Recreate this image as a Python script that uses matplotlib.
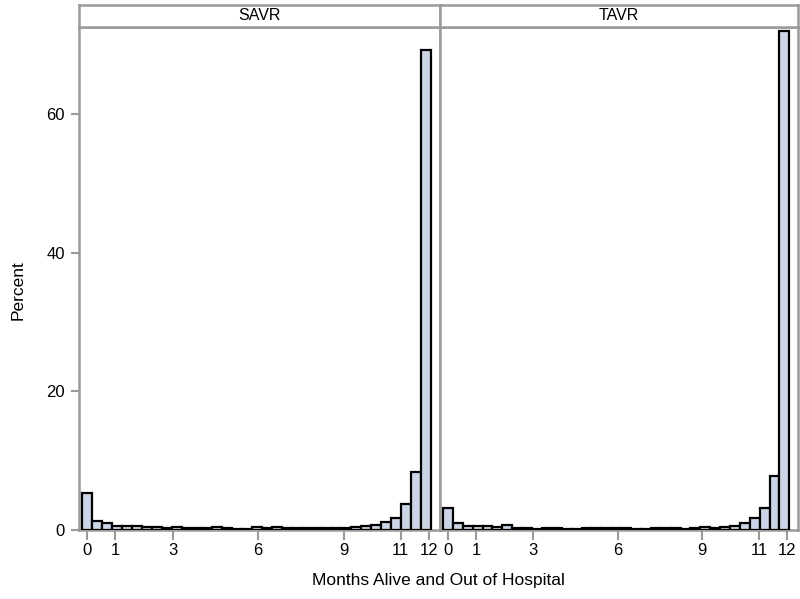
import numpy as np
import matplotlib
matplotlib.use("Agg")
import matplotlib.pyplot as plt

plt.rcParams['font.family'] = ['Liberation Sans', 'DejaVu Sans']

# histogram bins: midpoints in months, width 0.35
bin_width = 0.35
bin_mid = np.arange(35) * bin_width

panels = ["SAVR", "TAVR"]

savr_pct = [5.3, 1.3, 0.95, 0.5, 0.5, 0.55, 0.3, 0.3, 0.25, 0.38,
            0.2, 0.15, 0.25, 0.35, 0.15, 0.1, 0.05, 0.3, 0.25, 0.3,
            0.15, 0.15, 0.15, 0.15, 0.15, 0.2, 0.25, 0.35, 0.5, 0.65,
            1.05, 1.7, 3.7, 8.3, 69.3]

tavr_pct = [3.1, 1.0, 0.5, 0.5, 0.5, 0.3, 0.7, 0.25, 0.2, 0.1,
            0.15, 0.2, 0.1, 0.05, 0.15, 0.25, 0.15, 0.25, 0.15, 0.1,
            0.05, 0.25, 0.2, 0.25, 0.1, 0.25, 0.3, 0.15, 0.3, 0.55,
            1.0, 1.6, 3.1, 7.75, 72.0]

xticks = [0, 1, 3, 6, 9, 11, 12]
yticks = [0, 20, 40, 60]

frame_col = '#9a9a9a'
bar_col = '#cbd5e6'

W, H = 800, 599
fig = plt.figure(figsize=(W / 100, H / 100), dpi=100)

def px_axes(x0, y0, x1, y1):
    # pixel box (top-left origin) -> figure axes
    return fig.add_axes([x0 / W, (H - y1) / H, (x1 - x0) / W, (y1 - y0) / H])

boxes = [(79, 440), (440, 798)]
data = [savr_pct, tavr_pct]

for i, (name, vals) in enumerate(zip(panels, data)):
    x0, x1 = boxes[i]
    ax = px_axes(x0, 27, x1, 529.5)
    ax.bar(bin_mid, vals, width=bin_width, color=bar_col,
           edgecolor='black', linewidth=1.6, zorder=3)
    ax.set_xlim(-0.28, 12.38)
    ax.set_ylim(0, 72.6)
    ax.set_xticks(xticks)
    ax.set_xticklabels([str(t) for t in xticks], fontsize=12)
    ax.tick_params(axis='x', colors=frame_col, labelcolor='black',
                   length=7, width=1.5, pad=3)
    if i == 0:
        ax.set_yticks(yticks)
        ax.set_yticklabels([str(t) for t in yticks], fontsize=12)
        ax.tick_params(axis='y', colors=frame_col, labelcolor='black',
                       length=6, width=1.5, pad=4)
    else:
        ax.set_yticks([])
    for s in ax.spines.values():
        s.set_color(frame_col)
        s.set_linewidth(1.8)

    # header strip
    hx = px_axes(x0, 5, x1, 27)
    hx.set_xticks([])
    hx.set_yticks([])
    for s in hx.spines.values():
        s.set_color(frame_col)
        s.set_linewidth(1.8)
    hx.text(0.5, 0.5, name, ha='center', va='center', fontsize=11.5,
            transform=hx.transAxes)

fig.text(438 / W, 1 - 580 / H, "Months Alive and Out of Hospital",
         ha='center', va='center', fontsize=12.5)
fig.text(18 / W, 1 - 290 / H, "Percent", ha='center', va='center',
         rotation=90, fontsize=12.5)

fig.savefig("out.png", dpi=100)
